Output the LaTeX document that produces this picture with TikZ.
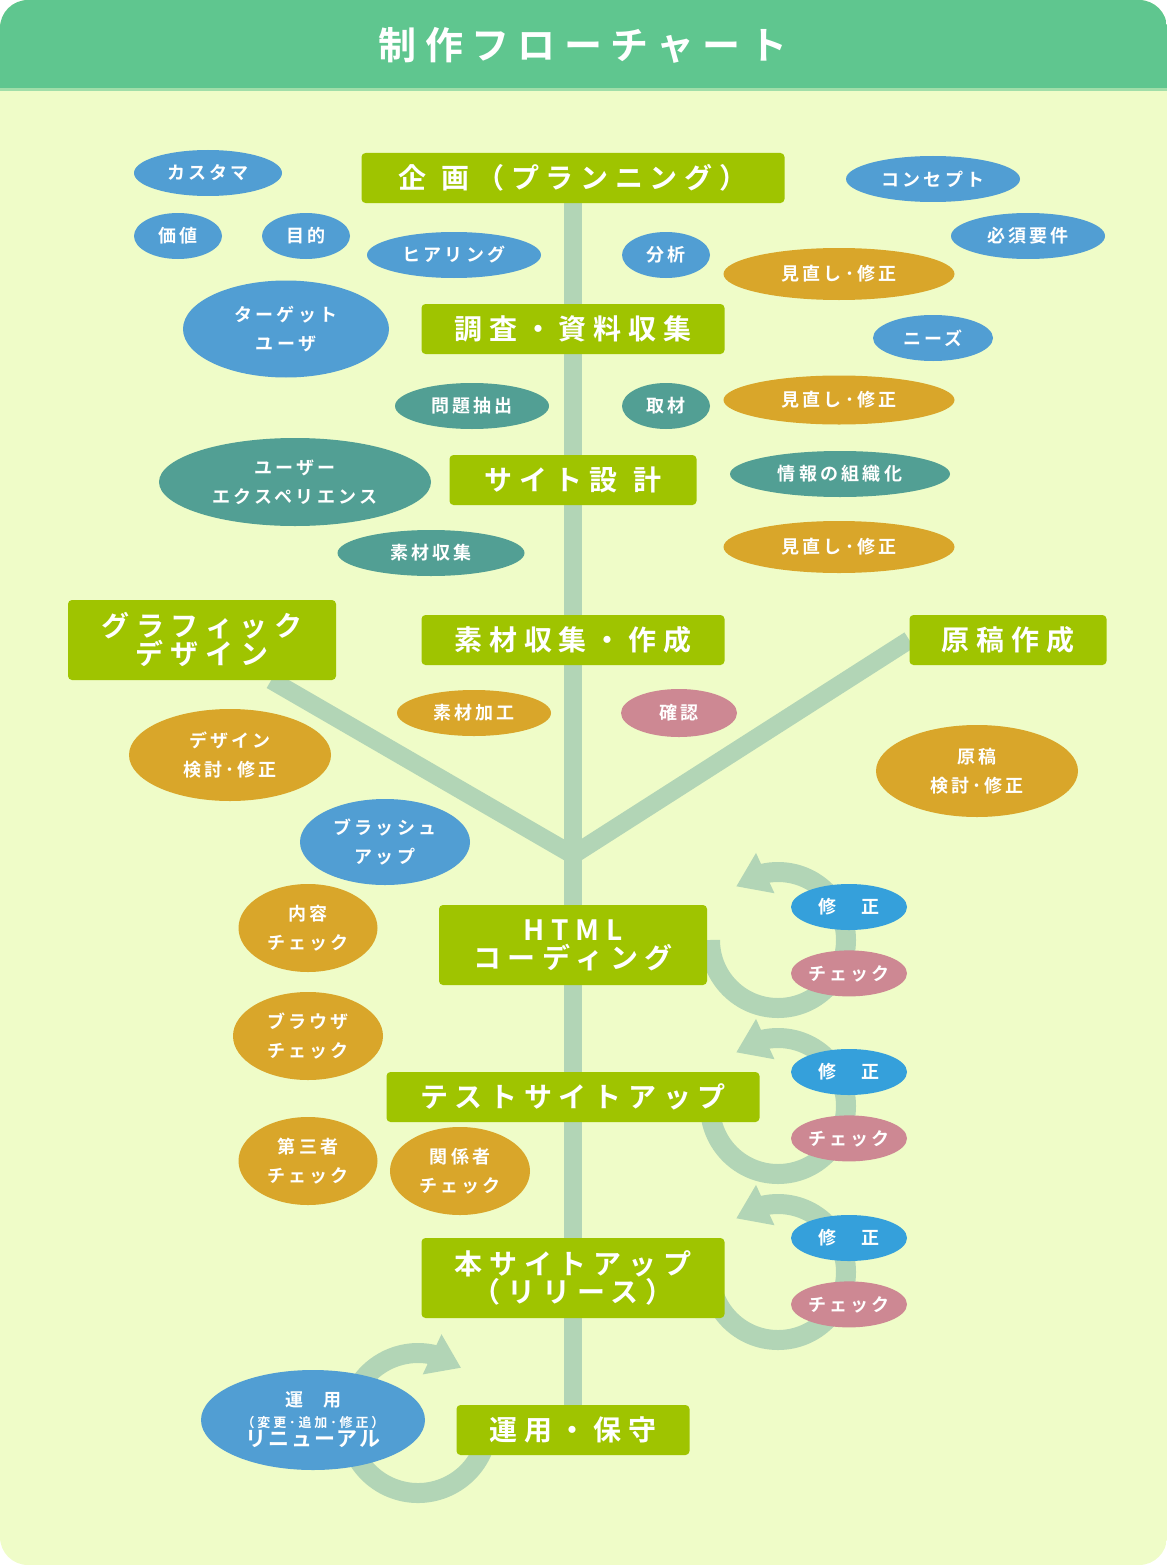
\documentclass[tikz,border=0pt]{standalone}
\usepackage{fontspec}
\setmainfont{Noto Sans CJK JP}[BoldFont={* Bold}]
\usetikzlibrary{shapes.geometric, positioning, arrows.meta, bending}

\definecolor{hdr}{HTML}{5FC68F}
\definecolor{paperc}{HTML}{EFFCC8}
\definecolor{leaf}{HTML}{9FC400}
\definecolor{stemc}{HTML}{B2D5B6}
\definecolor{sky}{HTML}{519ED3}
\definecolor{fixc}{HTML}{35A0DB}
\definecolor{sea}{HTML}{529F94}
\definecolor{ochre}{HTML}{D9A62A}
\definecolor{rose}{HTML}{CD8893}

\pgfdeclarelayer{paper}
\pgfdeclarelayer{stems}
\pgfsetlayers{paper,stems,main}

\begin{document}
\begin{tikzpicture}[x=1pt, y=-1pt, node distance=20pt,
  box/.style={fill=leaf, rounded corners=4pt, text=white, align=center, inner sep=0pt,
    font=\bfseries\fontsize{28}{28}\selectfont\addfontfeature{LetterSpace=24}},
  bub/.style={ellipse, inner sep=0pt, text=white, align=center,
    font=\bfseries\fontsize{18}{29}\selectfont\addfontfeature{LetterSpace=18}},
  trunk/.style={stemc, line width=18pt},
  rework/.style={stemc, line width=20pt, -{Triangle[width=42pt,length=32pt]}}]
\useasboundingbox (0,0) rectangle (1167,1565);

% page and header
\begin{pgfonlayer}{paper}
\begin{scope}
\clip[rounded corners=28pt] (0,0) rectangle (1167,1565);
\fill[paperc] (0,0) rectangle (1167,1565);
\fill[hdr] (0,0) rectangle (1167,90);
\fill[hdr!55!paperc] (0,88) rectangle (1167,91);
\end{scope}
\end{pgfonlayer}
\node[text=white, font=\bfseries\fontsize{38}{38}\selectfont\addfontfeature{LetterSpace=22}] (ttl) at (583,45) {制作フローチャート};

% steps
\node[box, minimum width=423pt, minimum height=50pt] (plan) at (573,178) {企\hspace{15pt}画（プランニング）};
\node[box, minimum width=303pt, minimum height=50pt] (survey) at (573,329) {調査・資料収集};
\node[box, minimum width=247pt, minimum height=50pt] (design) at (573,480) {サイト設\hspace{16pt}計};
\node[box, minimum width=303pt, minimum height=50pt] (material) at (573,640) {素材収集・作成};
\node[box, minimum width=268pt, minimum height=80pt] (graphic) at (202,640) {グラフィック\\デザイン};
\node[box, minimum width=197pt, minimum height=50pt] (draft) at (1008,640) {原稿作成};
\node[box, minimum width=268pt, minimum height=80pt] (html) at (573,945) {HTML\\コーディング};
\node[box, minimum width=373pt, minimum height=50pt] (test) at (573,1097) {テストサイトアップ};
\node[box, minimum width=303pt, minimum height=80pt] (release) at (573,1278) {本サイトアップ\\（リリース）};
\node[box, minimum width=233pt, minimum height=50pt] (ops) at (573,1430) {運用・保守};

% planning / survey
\node[bub, fill=sky, minimum width=148pt, minimum height=46pt] (cust) at (208,173) {カスタマ};
\node[bub, fill=sky, minimum width=88pt, minimum height=46pt] (value) at (178,236) {価値};
\node[bub, fill=sky, minimum width=88pt, minimum height=46pt] (aim) at (306,236) {目的};
\node[bub, fill=sky, minimum width=174pt, minimum height=46pt] (hear) at (454,255) {ヒアリング};
\node[bub, fill=sky, minimum width=88pt, minimum height=46pt] (anal) at (666,255) {分析};
\node[bub, fill=sky, minimum width=174pt, minimum height=46pt] (concept) at (933,179) {コンセプト};
\node[bub, fill=sky, minimum width=154pt, minimum height=46pt] (must) at (1028,236) {必須要件};
\node[bub, fill=sky, minimum width=206pt, minimum height=97pt] (target) at (286,329) {ターゲット\\ユーザ};
\node[bub, fill=sky, minimum width=120pt, minimum height=46pt] (needs) at (933,338) {ニーズ};
\node[bub, fill=ochre, minimum width=231pt, minimum height=52pt] (rev1) at (839,274) {見直し･修正};

% site design
\node[bub, fill=sea, minimum width=154pt, minimum height=46pt] (issue) at (472,406) {問題抽出};
\node[bub, fill=sea, minimum width=88pt, minimum height=46pt] (interview) at (666,406) {取材};
\node[bub, fill=ochre, minimum width=231pt, minimum height=49pt] (rev2) at (839,400) {見直し･修正};
\node[bub, fill=sea, minimum width=272pt, minimum height=88pt] (ux) at (295,482) {ユーザー\\エクスペリエンス};
\node[bub, fill=sea, minimum width=220pt, minimum height=46pt] (org) at (840,474) {情報の組織化};
\node[bub, fill=sea, minimum width=187pt, minimum height=46pt] (gather) at (431,553) {素材収集};
\node[bub, fill=ochre, minimum width=231pt, minimum height=52pt] (rev3) at (839,547) {見直し･修正};

% materials
\node[bub, fill=ochre, minimum width=154pt, minimum height=46pt] (proc) at (474,713) {素材加工};
\node[bub, fill=rose, minimum width=116pt, minimum height=48pt] (confirm) at (679,713) {確認};
\node[bub, fill=ochre, minimum width=202pt, minimum height=92pt] (dcheck) at (230,755) {デザイン\\検討･修正};
\node[bub, fill=ochre, minimum width=202pt, minimum height=92pt] (tcheck) at (977,771) {原稿\\検討･修正};
\node[bub, fill=sky, minimum width=170pt, minimum height=86pt] (brush) at (385,842) {ブラッシュ\\アップ};

% checks
\node[bub, fill=ochre, minimum width=139pt, minimum height=88pt] (content) at (308,928) {内容\\チェック};
\node[bub, fill=ochre, minimum width=150pt, minimum height=88pt] (browser) at (308,1036) {ブラウザ\\チェック};
\node[bub, fill=ochre, minimum width=139pt, minimum height=88pt] (third) at (308,1161) {第三者\\チェック};
\node[bub, fill=ochre, minimum width=140pt, minimum height=88pt] (party) at (460,1171) {関係者\\チェック};

\node[bub, fill=fixc, minimum width=116pt, minimum height=46pt] (fix1) at (849,907) {修　正};
\node[bub, fill=rose, minimum width=116pt, minimum height=46pt] (chk1) [below=of fix1] {チェック};
\node[bub, fill=fixc, minimum width=116pt, minimum height=46pt] (fix2) at (849,1072) {修　正};
\node[bub, fill=rose, minimum width=116pt, minimum height=46pt] (chk2) [below=of fix2] {チェック};
\node[bub, fill=fixc, minimum width=116pt, minimum height=46pt] (fix3) at (849,1238) {修　正};
\node[bub, fill=rose, minimum width=116pt, minimum height=46pt] (chk3) [below=of fix3] {チェック};

\node[bub, fill=sky, minimum width=224pt, minimum height=100pt, font=\bfseries\fontsize{18}{20}\selectfont\addfontfeature{LetterSpace=10}] (renew) at (313,1420)
  {運\hspace{20pt}用\\[1pt]{\fontsize{13}{13}\selectfont\addfontfeature{LetterSpace=22}（変更･追加･修正）}\\[-1pt]{\fontsize{21}{21}\selectfont リニューアル}};

\coordinate (fork) at (573,855);
\coordinate (c1) at (778,940);
\coordinate (c2) at (778,1106);
\coordinate (c3) at (778,1272);
\coordinate (c4) at (418,1423);

\begin{pgfonlayer}{stems}
\path[trunk]
    (plan) edge (survey)
    (survey) edge (design)
    (design) edge (material)
    (material) edge (html)
    (html) edge (test)
    (test) edge (release)
    (release) edge (ops)
    (fork) edge (graphic)
    (fork) edge (draft.west)
    ;
\draw[rework] ([shift={(180:68)}]c1) arc[start angle=180, end angle=-128, radius=68];
\draw[rework] ([shift={(180:68)}]c2) arc[start angle=180, end angle=-128, radius=68];
\draw[rework] ([shift={(180:68)}]c3) arc[start angle=180, end angle=-128, radius=68];
\draw[rework] ([shift={(20:70)}]c4) arc[start angle=20, end angle=308, radius=70];
\end{pgfonlayer}
\end{tikzpicture}
\end{document}
